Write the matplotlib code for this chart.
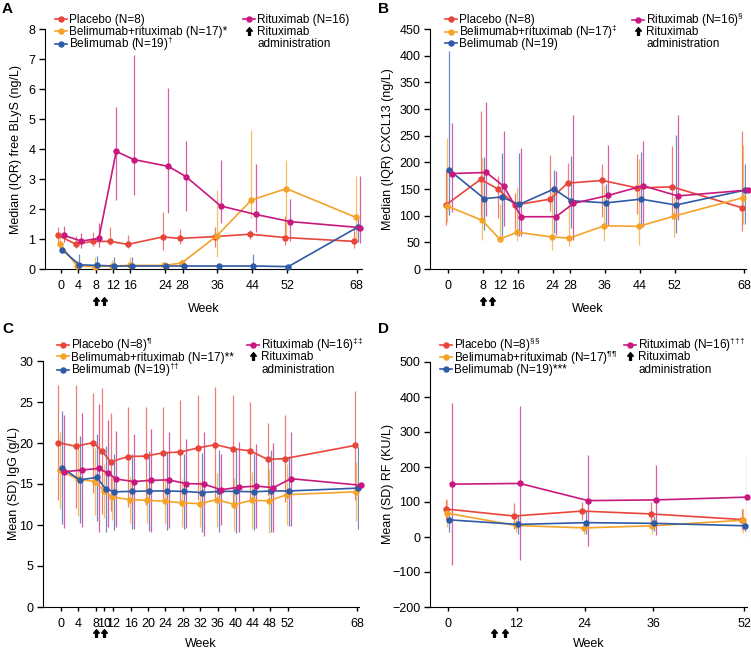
import matplotlib
matplotlib.use("Agg")
import matplotlib.pyplot as plt
import matplotlib.transforms as mtransforms
import numpy as np
from matplotlib.path import Path
from matplotlib.lines import Line2D

plt.rcParams['font.family'] = ['Liberation Sans', 'DejaVu Sans']
plt.rcParams['font.size'] = 9
plt.rcParams['mathtext.fontset'] = 'custom'
plt.rcParams['mathtext.rm'] = 'Liberation Sans'
plt.rcParams['mathtext.it'] = 'Liberation Sans:italic'
plt.rcParams['mathtext.bf'] = 'Liberation Sans:bold'
plt.rcParams['mathtext.default'] = 'regular'

# colours
c_pla = '#E9463B'
c_br = '#F4A328'
c_bel = '#2F5AA6'
c_rit = '#C8187F'

# A: free BLyS, median (IQR)
weeks_a = [0, 4, 8, 12, 16, 24, 28, 36, 44, 52, 68]
blys_pla = [1.12, 0.83, 0.92, 0.92, 0.82, 1.07, 1.02, 1.08, 1.16, 1.05, 0.92]
blys_pla_lo = [0.90, 0.70, 0.78, 0.80, 0.70, 0.65, 0.85, 0.75, 1.00, 0.80, 0.70]
blys_pla_hi = [1.40, 1.10, 1.22, 1.40, 1.12, 1.90, 1.35, 1.40, 1.30, 1.78, 1.40]
blys_br = [0.82, 0.10, 0.08, 0.10, 0.12, 0.12, 0.20, 1.10, 2.30, 2.68, 1.72]
blys_br_lo = [0.60, 0.05, 0.04, 0.05, 0.05, 0.05, 0.10, 0.40, 1.70, 1.00, 0.90]
blys_br_hi = [1.10, 0.30, 0.40, 0.30, 0.40, 0.25, 0.35, 2.65, 4.65, 3.62, 3.10]
blys_bel = [0.65, 0.14, 0.12, 0.10, 0.10, 0.10, 0.10, 0.10, 0.10, 0.08, 1.40]
blys_bel_lo = [0.55, 0.05, 0.05, 0.05, 0.05, 0.05, 0.05, 0.05, 0.05, 0.04, 0.90]
blys_bel_hi = [0.90, 0.50, 0.45, 0.40, 0.40, 0.20, 0.20, 0.15, 0.50, 0.10, 1.70]
blys_rit = [1.12, 0.93, 1.02, 3.92, 3.65, 3.42, 3.08, 2.10, 1.82, 1.58, 1.38]
blys_rit_lo = [0.90, 0.70, 0.75, 2.30, 2.48, 1.88, 1.95, 1.55, 1.25, 0.95, 0.88]
blys_rit_hi = [1.45, 1.20, 1.55, 5.40, 7.15, 6.02, 4.28, 3.65, 3.50, 2.35, 3.10]

# B: CXCL13, median (IQR)
weeks_b = [0, 8, 12, 16, 24, 28, 36, 44, 52, 68]
cx_pla = [120, 168, 150, 120, 131, 161, 166, 152, 154, 115]
cx_pla_lo = [82, 97, 95, 75, 108, 130, 98, 103, 93, 72]
cx_pla_hi = [185, 296, 175, 142, 214, 198, 197, 215, 231, 259]
cx_br = [118, 91, 56, 69, 60, 58, 81, 80, 99, 134]
cx_br_lo = [88, 55, 50, 52, 35, 44, 53, 45, 60, 85]
cx_br_hi = [246, 208, 122, 154, 150, 130, 155, 207, 135, 232]
cx_bel = [185, 132, 135, 121, 150, 128, 124, 131, 120, 148]
cx_bel_lo = [102, 73, 62, 62, 68, 77, 80, 80, 68, 85]
cx_bel_hi = [408, 210, 218, 218, 186, 211, 160, 220, 251, 197]
cx_rit = [179, 181, 155, 98, 98, 123, 138, 156, 137, 148]
cx_rit_lo = [107, 100, 80, 62, 63, 55, 80, 78, 92, 88]
cx_rit_hi = [274, 313, 259, 227, 183, 289, 232, 240, 289, 277]

# C: IgG, mean (SD)
weeks_c = [0, 4, 8, 10, 12, 16, 20, 24, 28, 32, 36, 40, 44, 48, 52, 68]
igg_pla = [20.05, 19.6, 20.05, 19.0, 17.7, 18.35, 18.4, 18.8, 18.9, 19.4, 19.8, 19.3, 19.05, 18.0, 18.1, 19.7]
igg_pla_sd = [7.0, 7.5, 6.1, 7.7, 6.0, 6.1, 6.0, 5.6, 6.3, 6.4, 7.0, 6.6, 5.9, 4.4, 5.3, 6.6]
igg_br = [16.7, 15.6, 15.3, 14.2, 13.4, 13.1, 13.0, 12.9, 12.7, 12.6, 13.1, 12.5, 13.0, 12.95, 13.7, 14.05]
igg_br_sd = [4.7, 4.5, 4.1, 3.3, 2.8, 2.8, 2.7, 2.8, 2.9, 2.8, 3.3, 3.2, 3.5, 3.9, 3.7, 3.6]
igg_bel = [17.0, 15.5, 15.8, 14.4, 14.05, 14.1, 14.15, 14.15, 14.1, 13.95, 14.1, 14.1, 14.05, 14.15, 14.15, 14.5]
igg_bel_sd = [6.9, 5.3, 5.3, 5.2, 4.6, 4.6, 4.9, 4.7, 4.6, 4.8, 5.0, 5.1, 4.6, 5.0, 4.3, 5.0]
igg_rit = [16.5, 16.7, 16.9, 16.3, 15.6, 15.3, 15.45, 15.5, 15.05, 15.0, 14.3, 14.6, 14.75, 14.55, 15.65, 14.85]
igg_rit_sd = [6.9, 7.0, 7.8, 6.5, 5.9, 5.8, 6.3, 5.9, 5.4, 6.4, 4.3, 5.5, 5.1, 5.45, 5.75, 6.85]

# D: RF, mean (SD)
weeks_d = [0, 12, 24, 36, 52]
rf_pla = [80, 60, 74, 66, 50]
rf_pla_sd = [30, 37, 26, 34, 30]
rf_br = [68, 33, 26, 32, 48]
rf_br_sd = [38, 18, 18, 22, 36]
rf_bel = [49, 36, 41, 39, 32]
rf_bel_sd = [34, 27, 32, 22, 15]
rf_rit = [151, 153, 104, 106, 114]
rf_rit_sd = [231, 220, 131, 101, 117]

dosing_weeks = [8, 10]

W, H = 751, 649
fig = plt.figure(figsize=(W / 100, H / 100), dpi=100)

# up arrow marker
arrow = Path([(0, 1), (0.75, 0.1), (0.25, 0.1), (0.25, -1), (-0.25, -1),
              (-0.25, 0.1), (-0.75, 0.1), (0, 1)], closed=True)


def make_axes(left, right, top, bottom):
    return fig.add_axes([left / W, 1 - bottom / H, (right - left) / W, (bottom - top) / H])


def draw(ax, weeks, series):
    # series: list of (mean, lo, hi, colour); small sideways dodge in pixels
    dodge = [-2.5, -0.8, 1.2, 3.3]
    for (m, lo, hi, col), d in zip(series, dodge):
        tr = ax.transData + mtransforms.ScaledTranslation(d / 100, 0, fig.dpi_scale_trans)
        ax.vlines(weeks, lo, hi, color=col, lw=0.9, alpha=0.7, transform=tr, zorder=2)
        ax.plot(weeks, m, '-o', color=col, ms=3.6, lw=1.2, transform=tr, zorder=3, clip_on=False)


def style(ax, xt, yt, ylabel, xlim, ylim, ylab_px, arrow_px, wpad, legx, legx2, rows_y, labels):
    ax.set_xlim(xlim)
    ax.set_ylim(ylim)
    ax.set_xticks(xt)
    ax.set_yticks(yt)
    ax.spines[['top', 'right']].set_visible(False)
    ax.tick_params(axis='y', length=4, width=1, pad=3, labelsize=9)
    ax.tick_params(axis='x', length=3, width=1, pad=5, labelsize=9)
    ax.set_xlabel('Week', fontsize=9, labelpad=wpad)
    ax.set_ylabel(ylabel, fontsize=9)
    ax.yaxis.set_label_coords(-ylab_px / (ax.get_position().width * W), 0.5)
    trans = mtransforms.blended_transform_factory(ax.transData, ax.transAxes)
    ax.plot(dosing_weeks, [-arrow_px / (ax.get_position().height * H)] * 2, ls='none',
            marker=arrow, ms=5.5, color='black', transform=trans, clip_on=False)
    # legend: one row at a time so that both columns line up
    hs = [Line2D([], [], color=c, marker='o', ms=3.6, lw=1.2) for c in (c_pla, c_br, c_bel, c_rit)]
    ha = Line2D([], [], ls='none', marker=arrow, ms=5.5, color='black')
    hn = Line2D([], [], ls='none')
    entries = [(hs[0], labels[0], legx, rows_y[0]), (hs[1], labels[1], legx, rows_y[1]),
               (hs[2], labels[2], legx, rows_y[2]), (hs[3], labels[3], legx2, rows_y[0]),
               (ha, 'Rituximab', legx2, rows_y[1]), (hn, 'administration', legx2, rows_y[2])]
    for h, lab, x, y in entries:
        fig.legend([h], [lab], loc='center left', bbox_to_anchor=(x / W, 1 - y / H),
                   bbox_transform=fig.transFigure, frameon=False, borderpad=0,
                   borderaxespad=0, handlelength=1.0, handletextpad=0.2, fontsize=8.5)


# panel A
axA = make_axes(45, 362, 29, 269)
draw(axA, weeks_a, [(blys_pla, blys_pla_lo, blys_pla_hi, c_pla),
                    (blys_br, blys_br_lo, blys_br_hi, c_br),
                    (blys_bel, blys_bel_lo, blys_bel_hi, c_bel),
                    (blys_rit, blys_rit_lo, blys_rit_hi, c_rit)])
style(axA, weeks_a, range(0, 9), 'Median (IQR) free BLyS (ng/L)', (-3.6, 69.2), (0, 8),
      23, 32, 7.5, 55, 243, (20, 32, 44),
      ['Placebo (N=8)', 'Belimumab+rituximab (N=17)*', r'Belimumab (N=19)$^{†}$',
       'Rituximab (N=16)'])

# panel B
axB = make_axes(430, 746, 29, 269)
draw(axB, weeks_b, [(cx_pla, cx_pla_lo, cx_pla_hi, c_pla),
                    (cx_br, cx_br_lo, cx_br_hi, c_br),
                    (cx_bel, cx_bel_lo, cx_bel_hi, c_bel),
                    (cx_rit, cx_rit_lo, cx_rit_hi, c_rit)])
style(axB, weeks_b, range(0, 451, 50), 'Median (IQR) CXCL13 (ng/L)', (-4.2, 68.4), (0, 450),
      36, 32, 7.5, 445, 632, (20, 32, 44),
      ['Placebo (N=8)', r'Belimumab+rituximab (N=17)$^{‡}$', 'Belimumab (N=19)',
       r'Rituximab (N=16)$^{§}$'])

# panel C
axC = make_axes(43, 359, 361, 607)
sd = lambda m, s: (m, np.subtract(m, s), np.add(m, s))
draw(axC, weeks_c, [(*sd(igg_pla, igg_pla_sd), c_pla),
                    (*sd(igg_br, igg_br_sd), c_br),
                    (*sd(igg_bel, igg_bel_sd), c_bel),
                    (*sd(igg_rit, igg_rit_sd), c_rit)])
style(axC, weeks_c, range(0, 31, 5), 'Mean (SD) IgG (g/L)', (-4.1, 68.4), (0, 30),
      23, 26, 5.5, 57, 247, (345, 357.5, 370),
      [r'Placebo (N=8)$^{¶}$', 'Belimumab+rituximab (N=17)**',
       r'Belimumab (N=19)$^{††}$', r'Rituximab (N=16)$^{‡‡}$'])

# panel D
axD = make_axes(430, 747, 362, 607)
draw(axD, weeks_d, [(*sd(rf_pla, rf_pla_sd), c_pla),
                    (*sd(rf_br, rf_br_sd), c_br),
                    (*sd(rf_bel, rf_bel_sd), c_bel),
                    (*sd(rf_rit, rf_rit_sd), c_rit)])
style(axD, weeks_d, range(-200, 501, 100), 'Mean (SD) RF (KU/L)', (-3.2, 52.5), (-200, 500),
      36, 26, 5.5, 440, 624, (345, 357.5, 370),
      [r'Placebo (N=8)$^{§§}$', r'Belimumab+rituximab (N=17)$^{¶¶}$',
       'Belimumab (N=19)***', r'Rituximab (N=16)$^{†††}$'])

for x, y, s in [(2, 2, 'A'), (378, 2, 'B'), (2, 322, 'C'), (378, 322, 'D')]:
    fig.text(x / W, 1 - y / H, s, fontsize=11, fontweight='bold', va='top', ha='left')

fig.savefig('out.png', dpi=100)
